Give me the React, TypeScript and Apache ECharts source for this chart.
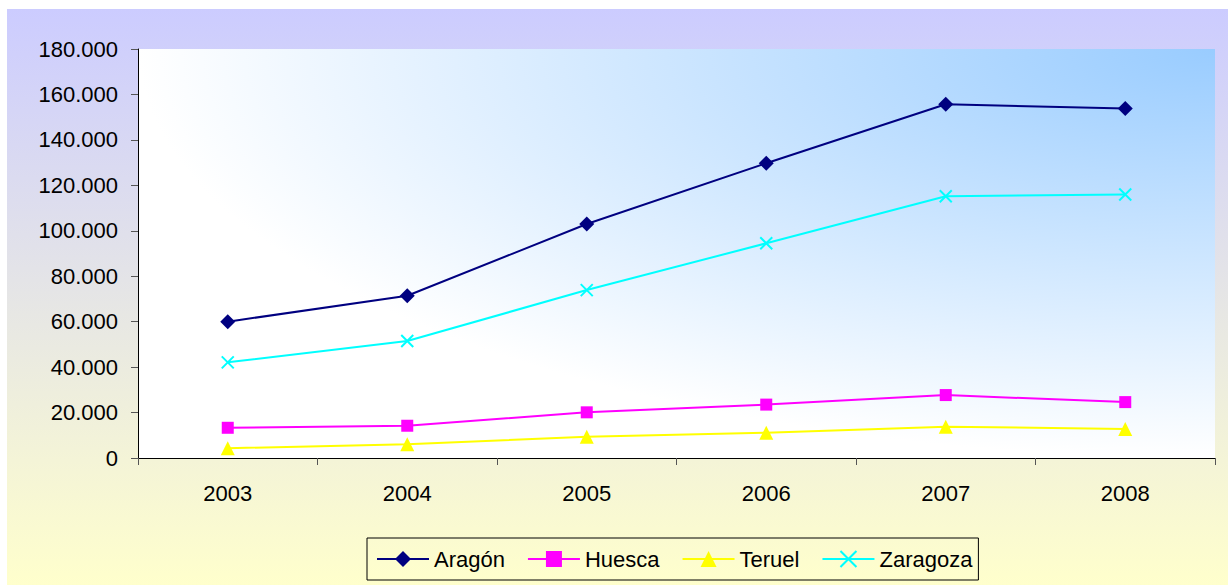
import React, { useEffect, useRef } from "react";
import * as echarts from "echarts";

const years = ["2003", "2004", "2005", "2006", "2007", "2008"];
const aragon = [60000, 71400, 103000, 129700, 155700, 153800];
const huesca = [13300, 14200, 20100, 23500, 27700, 24600];
const teruel = [4300, 6000, 9400, 11100, 13800, 12800];
const zaragoza = [42100, 51500, 73900, 94500, 115200, 116000];

const yTicks = { min: 0, max: 180000, interval: 20000 };

const FONT = "'Liberation Sans', Arial, sans-serif";

const fmt = (v: number) => String(v).replace(/\B(?=(\d{3})+(?!\d))/g, ".");

export default function App() {
  const ref = useRef<HTMLDivElement>(null);
  useEffect(() => {
    if (!ref.current) return;
    const chart = echarts.init(ref.current, null, { renderer: "svg" });
    const mk = (
      name: string,
      data: number[],
      color: string,
      symbol: string,
      size: number,
      extra: any = {}
    ) => ({
      name,
      type: "line",
      data,
      symbol,
      symbolSize: size,
      lineStyle: { color, width: 2 },
      itemStyle: { color, ...extra },
      emphasis: { disabled: true },
    });
    chart.setOption({
      animation: false,
      backgroundColor: new echarts.graphic.LinearGradient(0, 0, 0, 1, [
        { offset: 0, color: "#CCCCFF" },
        { offset: 1, color: "#FFFFCC" },
      ]),
      textStyle: { fontFamily: FONT },
      grid: {
        left: 131,
        top: 40,
        right: 13,
        bottom: 127,
        show: true,
        borderWidth: 0,
        backgroundColor: new echarts.graphic.RadialGradient(1, 0, 1, [
          { offset: 0, color: "#99CCFF" },
          { offset: 1, color: "#FFFFFF" },
        ]),
      },
      legend: {
        left: 360,
        top: 529,
        orient: "horizontal",
        itemWidth: 52,
        itemHeight: 20,
        itemGap: 22,
        borderColor: "#000000",
        borderWidth: 1,
        padding: [10, 6, 10, 9],
        textStyle: { fontSize: 22, color: "#000000", fontFamily: FONT },
        data: ["Aragón", "Huesca", "Teruel", "Zaragoza"],
      },
      xAxis: {
        type: "category",
        data: years,
        boundaryGap: true,
        axisLine: { lineStyle: { color: "#000000", width: 1 } },
        axisTick: { show: true, length: 7, lineStyle: { color: "#555555" } },
        axisLabel: { fontSize: 22, color: "#000000", margin: 24, fontFamily: FONT },
        splitLine: { show: false },
      },
      yAxis: {
        type: "value",
        min: yTicks.min,
        max: yTicks.max,
        interval: yTicks.interval,
        axisLine: { show: true, lineStyle: { color: "#000000", width: 1 } },
        axisTick: { show: true, length: 7, lineStyle: { color: "#555555" } },
        axisLabel: {
          fontSize: 22,
          color: "#000000",
          margin: 20,
          fontFamily: FONT,
          formatter: (v: number) => fmt(v),
        },
        splitLine: { show: false },
      },
      series: [
        mk("Aragón", aragon, "#000080", "diamond", 15),
        mk("Huesca", huesca, "#FF00FF", "rect", 12),
        mk("Teruel", teruel, "#FFFF00", "triangle", 14),
        mk("Zaragoza", zaragoza, "#00FFFF", "path://M0,0L10,10M10,0L0,10", 12, {
          borderColor: "#00FFFF",
          borderWidth: 2,
        }),
      ],
    });
    return () => chart.dispose();
  }, []);
  return (
    <div
      ref={ref}
      style={{ position: "absolute", left: 7, top: 9, width: 1221, height: 576 }}
    />
  );
}
